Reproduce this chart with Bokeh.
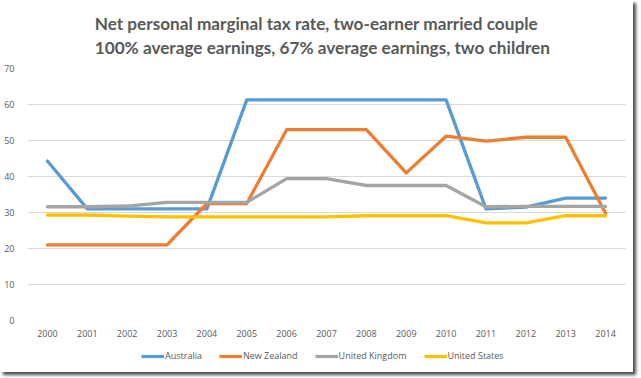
from bokeh.plotting import figure
from bokeh.models import ColumnDataSource, Legend, LegendItem, Range1d, FixedTicker
from bokeh.layouts import column
from bokeh.embed import file_html
from bokeh.resources import INLINE

years = [2000, 2001, 2002, 2003, 2004, 2005, 2006, 2007, 2008, 2009, 2010, 2011, 2012, 2013, 2014]
australia = [44.3, 31.0, 31.0, 31.0, 31.0, 61.3, 61.3, 61.3, 61.3, 61.3, 61.3, 31.0, 31.5, 34.0, 34.0]
new_zealand = [21.0, 21.0, 21.0, 21.0, 32.5, 32.5, 53.0, 53.0, 53.0, 41.0, 51.2, 49.8, 50.9, 50.9, 29.8]
united_kingdom = [31.6, 31.6, 31.8, 32.8, 32.8, 32.8, 39.4, 39.4, 37.5, 37.5, 37.5, 31.6, 31.7, 31.7, 31.7]
united_states = [29.3, 29.3, 29.0, 28.8, 28.8, 28.8, 28.8, 28.8, 29.1, 29.1, 29.1, 27.1, 27.1, 29.1, 29.1]
y_ticks = [0, 10, 20, 30, 40, 50, 60, 70]

series = [
    ("Australia", australia, "#5B9BD5"),
    ("New Zealand", new_zealand, "#ED7D31"),
    ("United Kingdom", united_kingdom, "#A5A5A5"),
    ("United States", united_states, "#FFC000"),
]

TXT = "#595959"
FONT = "Open Sans"

p = figure(width=633, height=342, output_backend="svg", toolbar_location=None,
           x_range=Range1d(1999.5, 2014.5), y_range=Range1d(0, 70),
           min_border_left=27, min_border_right=8, min_border_top=68, min_border_bottom=22)
p.title.text = "Net personal  marginal  tax rate, two-earner  married  couple\n100% average earnings,  67% average earnings,  two children"
p.title.align = "center"
p.title.text_font = "Lato"
p.title.text_font_size = "17.2px"
p.title.text_font_style = "bold"
p.title.text_color = TXT
p.title.text_line_height = 1.18
p.title.standoff = 20

p.outline_line_color = None
p.background_fill_color = "white"
p.border_fill_color = "white"

p.xgrid.grid_line_color = None
p.ygrid.grid_line_color = "#D9D9D9"
p.ygrid.grid_line_width = 1
p.ygrid.ticker = FixedTicker(ticks=y_ticks)

p.xaxis.ticker = FixedTicker(ticks=years)
p.xaxis.axis_line_color = None
p.xaxis.major_tick_line_color = None
p.xaxis.minor_tick_line_color = None
p.xaxis.major_label_text_font = FONT
p.xaxis.major_label_text_font_size = "9px"
p.xaxis.major_label_text_color = TXT
p.xaxis.major_label_standoff = 3

p.yaxis.ticker = FixedTicker(ticks=y_ticks)
p.yaxis.axis_line_color = None
p.yaxis.major_tick_line_color = None
p.yaxis.minor_tick_line_color = None
p.yaxis.major_label_text_font = FONT
p.yaxis.major_label_text_font_size = "9px"
p.yaxis.major_label_text_color = TXT
p.yaxis.major_label_standoff = 7

for name, vals, color in series:
    src = ColumnDataSource(dict(x=years, y=vals))
    p.line("x", "y", source=src, line_color=color, line_width=3.3, line_join="round", line_cap="round")

# legend strip below the chart
lg = figure(width=633, height=30, output_backend="svg", toolbar_location=None,
            x_range=Range1d(0, 1), y_range=Range1d(0, 1),
            min_border_left=0, min_border_right=0, min_border_top=0, min_border_bottom=0)
lg.axis.visible = False
lg.grid.visible = False
lg.outline_line_color = None
lg.border_fill_color = "white"
items = []
for name, vals, color in series:
    src = ColumnDataSource(dict(x=years, y=vals))
    r = lg.line("x", "y", source=src, line_color=color, line_width=3.2)
    items.append(LegendItem(label=name, renderers=[r]))
legend = Legend(items=items, orientation="horizontal", location=(114, 10),
                label_text_font=FONT, label_text_font_size="9px", label_text_color=TXT,
                label_height=10, glyph_width=23, glyph_height=10, label_standoff=1, spacing=17,
                border_line_color=None, background_fill_alpha=0, padding=2, margin=0)
lg.add_layout(legend, "center")

layout = column(p, lg, spacing=0, styles={"box-shadow": "3px 3px 3px rgba(0,0,0,0.7)"})
open("out.html", "w").write(file_html(layout, INLINE))
